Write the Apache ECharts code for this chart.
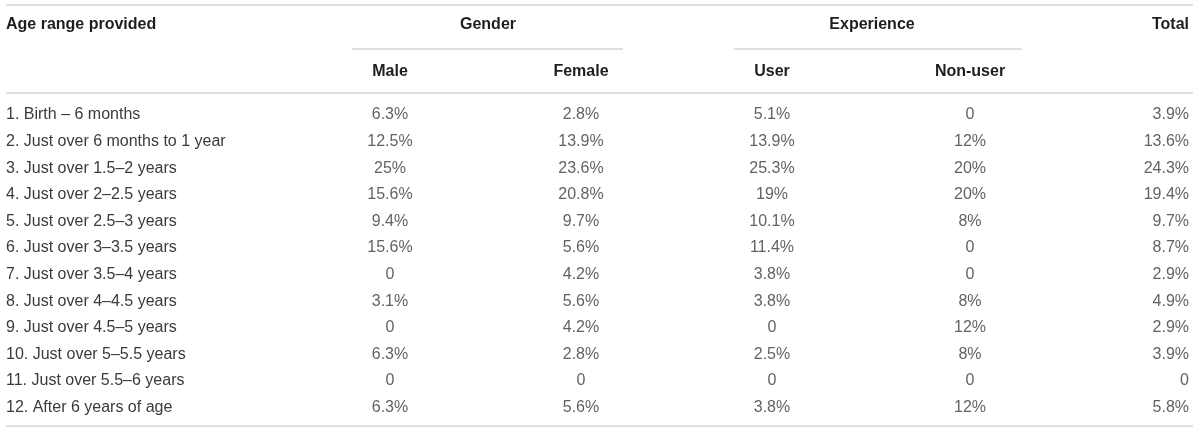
<!doctype html>
<html>
<head>
<meta charset="UTF-8">
<title>Age range provided</title>
<script src="https://cdn.jsdelivr.net/npm/echarts@6/dist/echarts.min.js"></script>
<style>
	html, body { margin: 0; padding: 0; background: #fff; }
	#chart { width: 1200px; height: 432px; }
</style>
</head>
<body>
<div id="chart"></div>
<script type="text/javascript">
	// 行标题
	var ageRanges = [
		'1. Birth \u2013 6 months',
		'2. Just over 6 months to 1 year',
		'3. Just over 1.5\u20132 years',
		'4. Just over 2\u20132.5 years',
		'5. Just over 2.5\u20133 years',
		'6. Just over 3\u20133.5 years',
		'7. Just over 3.5\u20134 years',
		'8. Just over 4\u20134.5 years',
		'9. Just over 4.5\u20135 years',
		'10. Just over 5\u20135.5 years',
		'11. Just over 5.5\u20136 years',
		'12. After 6 years of age'
	];
	// 列名
	var groupNames = ['Gender', 'Experience'];
	var columnNames = ['Male', 'Female', 'User', 'Non-user', 'Total'];

	// 百分比数据
	var male = [6.3, 12.5, 25, 15.6, 9.4, 15.6, 0, 3.1, 0, 6.3, 0, 6.3];
	var female = [2.8, 13.9, 23.6, 20.8, 9.7, 5.6, 4.2, 5.6, 4.2, 2.8, 0, 5.6];
	var user = [5.1, 13.9, 25.3, 19, 10.1, 11.4, 3.8, 3.8, 0, 2.5, 0, 3.8];
	var nonUser = [0, 12, 20, 20, 8, 0, 0, 8, 12, 8, 0, 12];
	var total = [3.9, 13.6, 24.3, 19.4, 9.7, 8.7, 2.9, 4.9, 2.9, 3.9, 0, 5.8];

	var textColor = '#3a3a3a';
	var headColor = '#1e1e1e';
	var ruleColor = '#d4d4d4';
	var font = 'Liberation Sans';

	// 列的水平位置
	var colX = [390, 581, 772, 970, 1189];

	function fmt(v) {
		return v === 0 ? '0' : v + '%';
	}

	function makeSeries(name, values, x, align) {
		var data = [];
		for(var i = 0; i < values.length; i++) {
			data.push([x, ageRanges[i], values[i]]);
		}
		return {
			name: name,
			type: 'scatter',
			symbolSize: 0,
			silent: true,
			data: data,
			label: {
				show: true,
				position: 'inside',
				align: align,
				verticalAlign: 'middle',
				color: textColor,
				fontFamily: font,
				fontSize: 16,
				formatter: function(p) {
					return fmt(p.value[2]);
				}
			}
		};
	}

	function rule(x1, x2, y) {
		return {
			type: 'line',
			shape: { x1: x1, y1: y, x2: x2, y2: y },
			style: { stroke: ruleColor, lineWidth: 1.5 },
			silent: true
		};
	}

	function head(text, x, y, align) {
		return {
			type: 'text',
			x: x,
			y: y,
			style: {
				text: text,
				fill: headColor,
				fontFamily: font,
				fontWeight: 'bold',
				fontSize: 16,
				align: align,
				verticalAlign: 'middle'
			},
			silent: true
		};
	}

	var option = {
		animation: false,
		backgroundColor: '#fff',
		grid: {
			left: 0,
			right: 0,
			top: 101.7,
			bottom: 11.1
		},
		xAxis: {
			type: 'value',
			min: 0,
			max: 1200,
			show: false
		},
		yAxis: {
			type: 'category',
			data: ageRanges,
			inverse: true,
			axisLine: { show: false },
			axisTick: { show: false },
			splitLine: { show: false },
			axisLabel: {
				inside: true,
				margin: 6,
				color: textColor,
				fontFamily: font,
				fontSize: 16
			}
		},
		graphic: [
			rule(6, 1193, 5),
			rule(352, 623, 49),
			rule(734, 1022, 49),
			rule(6, 1193, 93),
			rule(6, 1193, 426),
			head('Age range provided', 6, 25, 'left'),
			head(groupNames[0], 488, 25, 'center'),
			head(groupNames[1], 872, 25, 'center'),
			head(columnNames[4], 1189, 25, 'right'),
			head(columnNames[0], colX[0], 72, 'center'),
			head(columnNames[1], colX[1], 72, 'center'),
			head(columnNames[2], colX[2], 72, 'center'),
			head(columnNames[3], colX[3], 72, 'center')
		],
		series: [
			makeSeries('Male', male, colX[0], 'center'),
			makeSeries('Female', female, colX[1], 'center'),
			makeSeries('User', user, colX[2], 'center'),
			makeSeries('Non-user', nonUser, colX[3], 'center'),
			makeSeries('Total', total, colX[4], 'right')
		]
	};

	var chart = echarts.init(document.getElementById('chart'));
	chart.setOption(option);
</script>
</body>
</html>
